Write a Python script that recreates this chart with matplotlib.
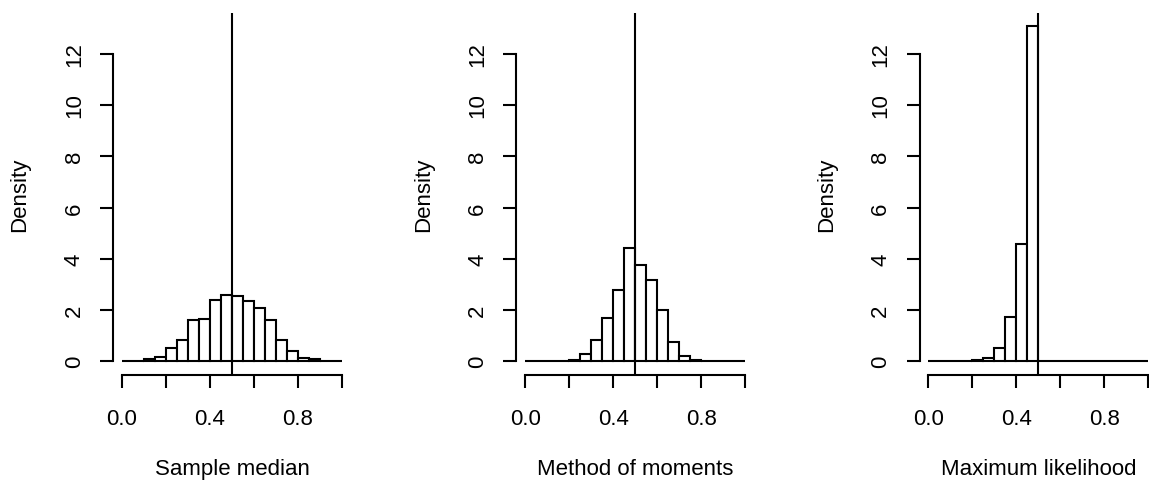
import numpy as np
import matplotlib.pyplot as plt

plt.rcParams["font.family"] = ["Liberation Sans", "DejaVu Sans"]

# histogram bins (width 0.05 from 0 to 1) and densities
bin_edges = np.round(np.arange(0, 1.0001, 0.05), 2)

sample_median = [0, 0, 0.08, 0.18, 0.52, 0.83, 1.61, 1.65, 2.40, 2.60,
                 2.56, 2.36, 2.08, 1.61, 0.83, 0.41, 0.13, 0.08, 0, 0]
method_of_moments = [0, 0, 0, 0.02, 0.05, 0.29, 0.82, 1.69, 2.77, 4.43,
                     3.77, 3.16, 1.98, 0.74, 0.20, 0.03, 0, 0, 0, 0]
max_likelihood = [0, 0, 0, 0, 0.03, 0.12, 0.53, 1.73, 4.56, 13.07,
                  0, 0, 0, 0, 0, 0, 0, 0, 0, 0]

panels = [sample_median, method_of_moments, max_likelihood]
xlabels = ["Sample median", "Method of moments", "Maximum likelihood"]
true_value = 0.5

x_ticks = [0.0, 0.2, 0.4, 0.6, 0.8, 1.0]
x_ticklabels = ["0.0", "", "0.4", "", "0.8", ""]
y_ticks = [0, 2, 4, 6, 8, 10, 12]

# ----- layout (pixels of a 1149x481 canvas) -----
W, H = 1149, 481
left0, step, width = 113.2, 403.2, 237.6
bottom_px, top_px = 375.6, 14.0
lw = 1.5
fs = 16

fig = plt.figure(figsize=(W / 100, H / 100), dpi=100)
ymax = max(max(p) for p in panels)

for i, (dens, xl) in enumerate(zip(panels, xlabels)):
    ax = fig.add_axes([(left0 + i * step) / W, (H - bottom_px) / H,
                       width / W, (bottom_px - top_px) / H])
    ax.bar(bin_edges[:-1], dens, width=np.diff(bin_edges), align="edge",
           facecolor="white", edgecolor="black", linewidth=lw, zorder=2)
    ax.axvline(true_value, color="black", linewidth=lw, zorder=3)

    ax.set_xlim(-0.04, 1.04)
    ax.set_ylim(-0.04 * ymax, 1.04 * ymax)

    for side in ["top", "right"]:
        ax.spines[side].set_visible(False)
    ax.spines["left"].set_bounds(0, 12)
    ax.spines["bottom"].set_bounds(0, 1)
    for side in ["left", "bottom"]:
        ax.spines[side].set_linewidth(lw)

    ax.set_xticks(x_ticks)
    ax.set_xticklabels(x_ticklabels)
    ax.set_yticks(y_ticks)
    ax.tick_params(axis="both", direction="out", length=9.4, width=lw,
                   labelsize=fs, color="black")
    ax.tick_params(axis="x", pad=14.4)
    ax.tick_params(axis="y", pad=11, labelrotation=90)
    for lab in ax.get_yticklabels():
        lab.set_va("center")

    ax.set_xlabel(xl, fontsize=fs, va="baseline")
    ax.xaxis.set_label_coords(0.5, (bottom_px - 475.5) / (bottom_px - top_px))
    ax.set_ylabel("Density", fontsize=fs, va="center")
    ax.yaxis.set_label_coords((20 - left0) / width, 0.5)

fig.savefig("out.png", dpi=100)
